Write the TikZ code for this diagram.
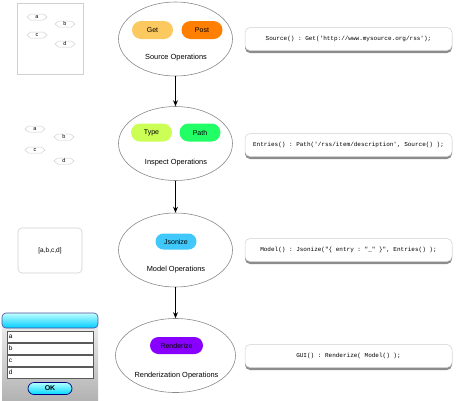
\documentclass[tikz,border=0pt]{standalone}
\usepackage{fontspec}
\setmainfont{Liberation Sans}
\setmonofont{Liberation Mono}
\usetikzlibrary{shapes.geometric,shapes.misc,shapes.symbols,shadows,arrows.meta}
\definecolor{getc}{HTML}{FCC860}
\definecolor{postc}{HTML}{FF7F00}
\definecolor{typec}{HTML}{CCFF55}
\definecolor{pathc}{HTML}{22FF66}
\definecolor{jsonc}{HTML}{40C8FA}
\definecolor{rendc}{HTML}{8800FF}
\definecolor{edgec}{HTML}{8A8A8A}
\definecolor{lightb}{HTML}{D0D0D0}
\tikzset{
  opell/.style={ellipse, draw=edgec, line width=0.6pt, fill=white, inner sep=0pt, minimum width=114pt, minimum height=74pt},
  pill/.style={rounded rectangle, inner sep=0pt, minimum width=41pt, minimum height=18pt, font=\fontsize{7}{8}\selectfont},
  oplabel/.style={font=\fontsize{7.4}{8}\selectfont, inner sep=0pt},
  codebox/.style={rounded corners=5pt, draw=lightb, line width=0.5pt, fill=white, minimum width=207pt, minimum height=23pt, inner sep=0pt, font=\ttfamily\fontsize{6}{7}\selectfont,
    drop shadow={shadow xshift=0pt, shadow yshift=-2.5pt, opacity=0.6, fill=black!75}},
  hexn/.style={signal, signal to=west and east, signal pointer angle=80, draw=lightb, line width=0.5pt, fill=white, inner sep=0pt, minimum width=20pt, minimum height=6pt, font=\fontsize{5.5}{6}\selectfont},
  arr/.style={-{Stealth[length=6pt,width=5pt]}, line width=1.1pt, black},
  field/.style={draw=black!65, line width=0.8pt, fill=white, minimum width=86pt, minimum height=11pt, inner sep=0pt, font=\fontsize{6.5}{7}\selectfont, text width=82pt, align=left}
}
\begin{document}
\begin{tikzpicture}[x=1pt,y=-1pt]
\useasboundingbox (0,0) rectangle (458,400);
% ---------- panel 1
\node[draw=lightb, line width=0.6pt, minimum width=66pt, minimum height=71pt, inner sep=0pt] (p1) at (50,38.5) {};
\node[hexn] (p1a) at (37,17) {a};
\node[hexn] (p1b) at (65,24) {b};
\node[hexn] (p1c) at (37,35) {c};
\node[hexn] (p1d) at (65,44) {d};
% ---------- panel 2
\node[hexn] (p2a) at (35,129) {a};
\node[hexn] (p2b) at (64,137) {b};
\node[hexn] (p2c) at (35,150) {c};
\node[hexn] (p2d) at (64,161) {d};
% ---------- panel 3
\node[draw=lightb, line width=0.6pt, rounded corners=4pt, minimum width=64pt, minimum height=45pt, inner sep=0pt, font=\fontsize{6.5}{7}\selectfont] (p3) at (50,250.5) {[a,b,c,d]};
% ---------- panel 4 (window)
\shade[top color=black!8, bottom color=black!30] (2,326) rectangle (98,400);
\node[rounded corners=4pt, draw=blue!45!black!70, line width=0.6pt, top color=cyan!25, bottom color=cyan!80!blue, minimum width=96pt, minimum height=15pt, inner sep=0pt] (tb) at (50,320.5) {};
\node[field] (fa) at (50,336.5) {a};
\node[field] (fb) at (50,348.5) {b};
\node[field] (fc) at (50,360.5) {c};
\node[field] (fd) at (50,372.5) {d};
\node[rounded rectangle, draw=blue!50!black, line width=0.7pt, top color=cyan!30, bottom color=cyan!85!blue, minimum width=44pt, minimum height=12pt, inner sep=0pt, font=\bfseries\fontsize{7}{8}\selectfont] (ok) at (50,388.5) {OK};
% ---------- ellipses
\node[opell] (e1) at (175.5,39) {};
\node[pill, fill=getc] (get) at (152.5,30) {Get};
\node[pill, fill=postc] (post) at (202,30) {Post};
\node[oplabel] (l1) at (176,58) {Source Operations};

\node[opell] (e2) at (175.5,143.5) {};
\node[pill, fill=typec] (type) at (151.5,132.5) {Type};
\node[pill, fill=pathc] (path) at (200,132.5) {Path};
\node[oplabel] (l2) at (176,163) {Inspect Operations};

\node[opell] (e3) at (175.5,250) {};
\node[pill, fill=jsonc, minimum height=16pt] (json) at (176,241.5) {Jsonize};
\node[oplabel] (l3) at (176,270) {Model Operations};

\node[opell, minimum width=120pt] (e4) at (175.5,355.5) {};
\node[pill, fill=rendc, minimum width=53pt, minimum height=17pt] (rend) at (176.5,345.5) {Renderize};
\node[oplabel] (l4) at (176.5,376) {Renderization Operations};

\draw[arr] (e1.south) -- (e2.north);
\draw[arr] (e2.south) -- (e3.north);
\draw[arr] (e3.south) -- (e4.north);
% ---------- code boxes
\node[codebox] (c1) at (348.5,39) {Source() : Get('http://www.mysource.org/rss');};
\node[codebox] (c2) at (348.5,145) {Entries() : Path('/rss/item/description', Source() );};
\node[codebox] (c3) at (348.5,250) {Model() : Jsonize("\{ entry : "\_" \}", Entries() );};
\node[codebox] (c4) at (348.5,356) {GUI() : Renderize( Model() );};
\end{tikzpicture}
\end{document}
